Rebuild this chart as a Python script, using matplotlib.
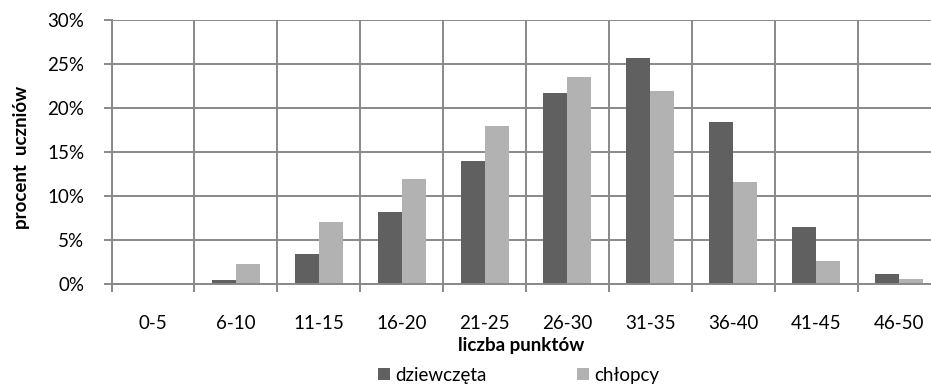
import matplotlib
matplotlib.use("Agg")
import matplotlib.pyplot as plt
import numpy as np
from matplotlib.ticker import FixedLocator, PercentFormatter

plt.rcParams['font.family'] = ['Lato', 'DejaVu Sans']

categories = ["0-5", "6-10", "11-15", "16-20", "21-25", "26-30", "31-35", "36-40", "41-45", "46-50"]
dziewczeta = [0.0, 0.42, 3.4, 8.2, 14.0, 21.7, 25.7, 18.4, 6.5, 1.1]
chlopcy = [0.1, 2.3, 7.1, 11.9, 17.9, 23.5, 21.9, 11.55, 2.6, 0.57]
series_names = ["dziewczęta", "chłopcy"]
y_ticks = [0, 5, 10, 15, 20, 25, 30]

W, H = 931, 385
FS = 13.5
fig = plt.figure(figsize=(W / 100, H / 100), dpi=100)
left, right, top, bottom = 111.5, 940.5, 20, 284
ax = fig.add_axes([left / W, 1 - bottom / H, (right - left) / W, (bottom - top) / H])

x = np.arange(len(categories))
bw = 0.29
dark = '#606060'
light = '#b2b2b2'
grid_c = '#898989'

ax.bar(x - bw / 2, dziewczeta, bw, color=dark, label=series_names[0], zorder=3)
ax.bar(x + bw / 2, chlopcy, bw, color=light, label=series_names[1], zorder=3)

ax.set_xlim(-0.5, len(categories) - 0.5)
ax.set_ylim(0, 30)
ax.yaxis.set_major_locator(FixedLocator(y_ticks))
ax.yaxis.set_major_formatter(PercentFormatter(decimals=0))

ax.set_xticks(x)
ax.set_xticklabels(categories)
ax.xaxis.set_minor_locator(FixedLocator(np.arange(-0.5, len(categories), 1.0)))
ax.tick_params(axis='x', which='major', length=0, pad=22.5, labelsize=FS, colors='black')
ax.tick_params(axis='x', which='minor', length=6, width=1.4, color=grid_c, direction='out')
ax.tick_params(axis='y', which='major', length=6, width=1.4, color=grid_c, pad=13.5, labelsize=FS)

ax.grid(axis='y', which='major', color=grid_c, linewidth=1.4, zorder=0)
ax.grid(axis='x', which='minor', color=grid_c, linewidth=1.4, zorder=0)
ax.set_axisbelow(True)

for s in ['top', 'right']:
    ax.spines[s].set_visible(False)
for s in ['left', 'bottom']:
    ax.spines[s].set_color(grid_c)
    ax.spines[s].set_linewidth(1.4)
    ax.spines[s].set_zorder(4)

fig.text(521 / W, 1 - 346 / H, "liczba punktów", ha='center', va='center',
         fontsize=FS, fontweight='bold')
fig.text(22 / W, 1 - 157 / H, "procent  uczniów", ha='center', va='center',
         rotation=90, fontsize=FS, fontweight='bold')

leg = fig.legend(loc='center left', bbox_to_anchor=(378 / W, 1 - 375 / H), ncol=2,
                 frameon=False, fontsize=FS, handlelength=0.64, handleheight=0.64,
                 handletextpad=0.27, columnspacing=4.85, borderaxespad=0, borderpad=0)

fig.savefig("out.png", dpi=100)
